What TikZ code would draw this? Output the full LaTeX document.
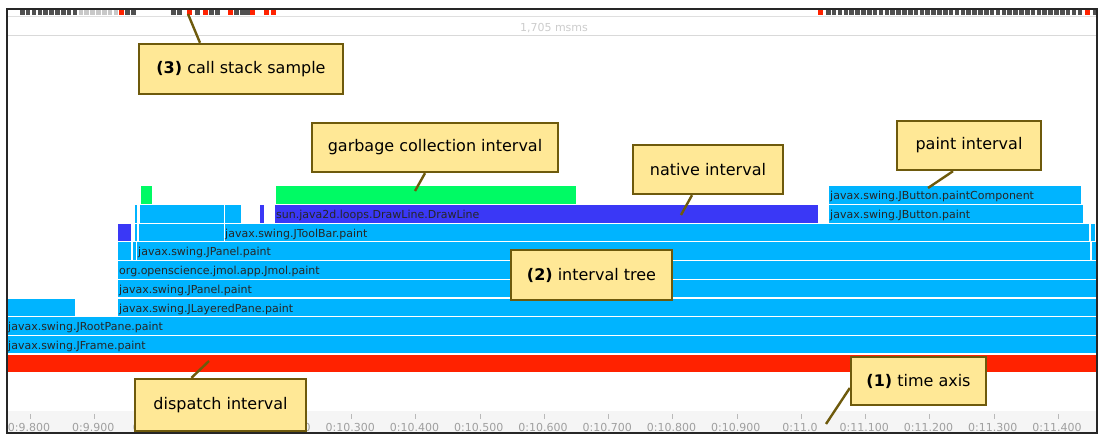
\documentclass[tikz,border=0pt]{standalone}
\usepackage{fontspec}
\setmainfont{DejaVu Sans}
\usepackage{xcolor}
\usetikzlibrary{positioning}

\definecolor{lblue}{RGB}{0,180,255}
\definecolor{dblue}{RGB}{58,56,246}
\definecolor{gcgreen}{RGB}{0,250,100}
\definecolor{dred}{RGB}{255,34,0}
\definecolor{sdark}{RGB}{80,80,80}
\definecolor{slight}{RGB}{200,200,200}
\definecolor{notefill}{RGB}{255,232,150}
\definecolor{notedraw}{RGB}{110,90,12}

\begin{document}
\begin{tikzpicture}[x=1pt, y=-1pt,
  lbl/.style={anchor=base west, inner sep=0pt, text=black!85, font=\fontsize{11}{13}\selectfont},
  axlbl/.style={inner sep=0pt, text=gray!75, font=\fontsize{11}{13}\selectfont},
  callout/.style={draw=notedraw, fill=notefill, line width=2.4pt, align=center, font=\fontsize{16}{19}\selectfont},
  pointer/.style={draw=notedraw, line width=2.4pt}]

  \useasboundingbox (0,0) rectangle (1098,435);

  % sample strip and header
  \draw[gray!25] (7,16.5) -- (1097,16.5);
  \draw[gray!30] (7,35.5) -- (1097,35.5);
  \node[axlbl, text=gray!40] (span) at (554,28) {1,705 msms};
  \foreach \i in {0,...,19} {
    \pgfmathsetmacro{\sx}{20+5.85*\i}
    \ifnum\i<10 \def\sc{sdark}\else\ifnum\i<17 \def\sc{slight}\else\ifnum\i=17 \def\sc{dred}\else\def\sc{sdark}\fi\fi\fi
    \fill[\sc] (\sx,10.5) rectangle ++(4.6,5);
  }
  \foreach \sx/\sc in {171/sdark, 177/sdark, 187/dred, 195/sdark, 203/dred, 209/sdark, 215/sdark,
                       228/dred, 234/sdark, 240/sdark, 245/sdark, 250/dred, 264/dred, 271/dred,
                       818/dred, 1085/dred, 1093/sdark}
    \fill[\sc] (\sx,10.5) rectangle ++(4.6,5);
  \foreach \i in {0,...,43}
    \fill[sdark] ({826+5.85*\i},10.5) rectangle ++(4.6,5);

  % interval bars: x1/x2/row/colour
  \foreach \xa/\xb/\r/\c in {7/1097/0/dred,
      7/1097/1/lblue, 7/1097/2/lblue,
      7/75/3/lblue, 118/1097/3/lblue,
      118/1097/4/lblue, 118/1097/5/lblue,
      118/131/6/lblue, 133/135.5/6/lblue, 137/1090/6/lblue, 1091.5/1097/6/lblue,
      118/131/7/dblue, 134.5/137/7/lblue, 139/223.5/7/lblue, 225/1089/7/lblue, 1090.5/1095/7/lblue,
      134.5/137/8/lblue, 140/223.5/8/lblue, 225/241/8/lblue, 260/263.5/8/dblue, 275/818/8/dblue, 829/1083/8/lblue,
      141/152/9/gcgreen, 276/576/9/gcgreen, 829/1081/9/lblue}
    \fill[\c] (\xa,{354.7-18.7*\r}) rectangle (\xb,{372.2-18.7*\r});

  \node[lbl] (frame)    at (8,{368.2-18.7*1})   {javax.swing.JFrame.paint};
  \node[lbl] (rootpane) at (8,{368.2-18.7*2})   {javax.swing.JRootPane.paint};
  \node[lbl] (layered)  at (119,{368.2-18.7*3}) {javax.swing.JLayeredPane.paint};
  \node[lbl] (panel)    at (119,{368.2-18.7*4}) {javax.swing.JPanel.paint};
  \node[lbl] (jmol)     at (119,{368.2-18.7*5}) {org.openscience.jmol.app.Jmol.paint};
  \node[lbl] (panelb)   at (138,{368.2-18.7*6}) {javax.swing.JPanel.paint};
  \node[lbl] (toolbar)  at (225,{368.2-18.7*7}) {javax.swing.JToolBar.paint};
  \node[lbl] (drawline) at (276,{368.2-18.7*8}) {sun.java2d.loops.DrawLine.DrawLine};
  \node[lbl] (button)   at (830,{368.2-18.7*8}) {javax.swing.JButton.paint};
  \node[lbl] (buttonpc) at (830,{368.2-18.7*9}) {javax.swing.JButton.paintComponent};

  % time axis
  \fill[gray!8] (7,411) rectangle (1097,432);
  \foreach \t [count=\k from 0] in {0:9.800, 0:9.900, 0:10.000, 0:10.100, 0:10.200, 0:10.300,
      0:10.400, 0:10.500, 0:10.600, 0:10.700, 0:10.800, 0:10.900, 0:11.0, 0:11.100,
      0:11.200, 0:11.300, 0:11.400} {
    \draw[gray!55] ({30+64.25*\k},414) -- ({30+64.25*\k},419);
    \node[axlbl] (tick\k) at ({29+64.25*\k},427) {\t};
  }

  \draw[line width=1.3pt, black!85] (7,9) rectangle (1097,433);

  % callouts
  \coordinate (stackpt)    at (188,14);
  \coordinate (gcpt)       at (415,191);
  \coordinate (nativept)   at (681,215);
  \coordinate (paintpt)    at (928,188);
  \coordinate (dispatchpt) at (209,361);
  \coordinate (timept)     at (826,424);

  \node[callout, minimum width=204pt, minimum height=50pt] (stack) at (241,69) {\textbf{(3)} call stack sample};
  \node[callout, minimum width=246pt, minimum height=49pt] (gc) at (435,147.5) {garbage collection interval};
  \node[callout, minimum width=150pt, minimum height=49pt] (native) at (708,169.5) {native interval};
  \node[callout, minimum width=144pt, minimum height=49pt] (paint) at (969,145.5) {paint interval};
  \node[callout, minimum width=161pt, minimum height=50pt] (tree) at (591.5,275) {\textbf{(2)} interval tree};
  \node[callout, minimum width=171pt, minimum height=52pt] (dispatch) at (220.5,405) {dispatch interval};
  \node[callout, minimum width=135pt, minimum height=48pt] (time) at (918.5,381) {\textbf{(1)} time axis};

  \draw[pointer] ([xshift=-41pt]stack.north) -- (stackpt);
  \draw[pointer] ([xshift=-10pt]gc.south) -- (gcpt);
  \draw[pointer] ([xshift=-16pt]native.south) -- (nativept);
  \draw[pointer] ([xshift=-16pt]paint.south) -- (paintpt);
  \draw[pointer] ([xshift=-29pt]dispatch.north) -- (dispatchpt);
  \draw[pointer] ([yshift=-7pt]time.west) -- (timept);
\end{tikzpicture}
\end{document}
